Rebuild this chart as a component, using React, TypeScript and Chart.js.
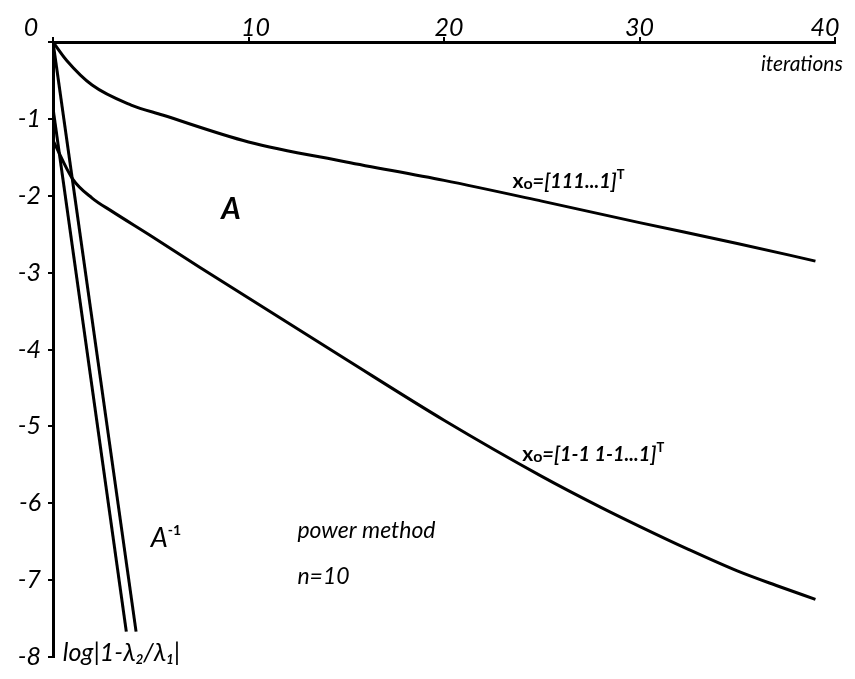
import React, { useEffect, useRef } from "react";
import { Chart, registerables } from "chart.js";
Chart.register(...registerables);

// ---- data ----
const xTickValues = [0, 10, 20, 30, 40];
const xTickLabels = ["0", "10", "20", "30", "40"];
const yTickValues = [0, -1, -2, -3, -4, -5, -6, -7, -8];
const yTickLabels = ["", "-1", "-2", "-3", "-4", "-5", "-6", "-7", "-8"];

// power method on A, x0 = [1 1 1 ... 1]^T
const onesIter = [0, 0.7, 2, 4, 5.6, 10, 15, 20, 25, 30, 35, 39];
const onesLog = [0, -0.24, -0.56, -0.82, -0.95, -1.3, -1.56, -1.8, -2.07, -2.35, -2.62, -2.85];

// power method on A, x0 = [1 -1 1 -1 ... 1]^T
const altIter = [0, 1, 2, 3, 5, 7.5, 10, 15, 20, 25, 28, 30, 32.5, 35, 37, 39];
const altLog = [-1.28, -1.78, -2.03, -2.2, -2.52, -2.93, -3.33, -4.13, -4.92, -5.65, -6.05, -6.3, -6.6, -6.88, -7.07, -7.25];

// power method on A^-1
const invOnesIter = [0, 4.25];
const invOnesLog = [0, -7.67];
const invAltIter = [0, 3.75];
const invAltLog = [-0.86, -7.67];

const toPoints = (xs: number[], ys: number[]) => xs.map((x, i) => ({ x, y: ys[i] }));

type Part = { t: string; size: number; dy?: number; weight?: string; style?: string };

function drawRich(ctx: CanvasRenderingContext2D, x: number, y: number, parts: Part[], family: string) {
  let cx = x;
  for (const p of parts) {
    ctx.font = `${p.style ?? "italic"} ${p.weight ?? "normal"} ${p.size}px ${family}`;
    ctx.fillText(p.t, cx, y + (p.dy ?? 0));
    cx += ctx.measureText(p.t).width;
  }
}

const FAM = "Lato, 'DejaVu Sans', sans-serif";

const annotationPlugin = {
  id: "annotations",
  afterDraw(chart: any) {
    const ctx: CanvasRenderingContext2D = chart.ctx;
    const xs = chart.scales.x;
    const ys = chart.scales.y;
    ctx.save();
    ctx.fillStyle = "#000";
    ctx.textBaseline = "alphabetic";

    // x tick labels above the top axis
    const nudges = [-22, 7, 5, 0, -10];
    ctx.font = `italic normal 25px ${FAM}`;
    ctx.textAlign = "center";
    xTickValues.forEach((v, i) => {
      ctx.fillText(xTickLabels[i], xs.getPixelForValue(v) + nudges[i], xs.bottom - 6);
    });

    ctx.textAlign = "right";
    ctx.font = `italic normal 21px ${FAM}`;
    ctx.fillText("iterations", xs.getPixelForValue(40.4), ys.getPixelForValue(-0.38));

    ctx.textAlign = "left";
    const P = (x: number, y: number) => [xs.getPixelForValue(x), ys.getPixelForValue(y)];

    let [px, py] = P(23.5, -1.9);
    drawRich(ctx, px, py, [
      { t: "x", size: 21, style: "normal", weight: "bold" },
      { t: "o", size: 16, style: "normal", weight: "bold", dy: 1 },
      { t: "=[111...1]", size: 20, style: "italic", weight: "bold" },
      { t: "T", size: 13, style: "normal", weight: "bold", dy: -9 },
    ], FAM);

    [px, py] = P(24.0, -5.45);
    drawRich(ctx, px, py, [
      { t: "x", size: 21, style: "normal", weight: "bold" },
      { t: "o", size: 16, style: "normal", weight: "bold", dy: 1 },
      { t: "=[1-1 1-1...1]", size: 20, style: "italic", weight: "bold" },
      { t: "T", size: 13, style: "normal", weight: "bold", dy: -9 },
    ], FAM);

    [px, py] = P(8.6, -2.3);
    drawRich(ctx, px, py, [{ t: "A", size: 30, style: "italic", weight: "bold" }], FAM);

    [px, py] = P(5.0, -6.57);
    drawRich(ctx, px, py, [
      { t: "A", size: 27, style: "italic", weight: "normal" },
      { t: "-1", size: 14, style: "normal", weight: "bold", dy: -12 },
    ], FAM);

    [px, py] = P(12.5, -6.45);
    drawRich(ctx, px, py, [{ t: "power method", size: 23, style: "italic" }], FAM);

    [px, py] = P(12.5, -7.05);
    drawRich(ctx, px, py, [{ t: "n=10", size: 23, style: "italic" }], FAM);

    [px, py] = P(0.5, -8.05);
    drawRich(ctx, px, py, [
      { t: "log|1-λ", size: 25, style: "italic" },
      { t: "2", size: 13, style: "italic", weight: "bold", dy: 3 },
      { t: "/λ", size: 25, style: "italic" },
      { t: "1", size: 13, style: "italic", weight: "bold", dy: 3 },
      { t: "|", size: 25, style: "italic" },
    ], FAM);

    ctx.restore();
  },
};

export default function App() {
  const ref = useRef<HTMLCanvasElement | null>(null);

  useEffect(() => {
    if (!ref.current) return;
    const lineStyle = {
      borderColor: "#000",
      borderWidth: 3,
      pointRadius: 0,
      fill: false,
    };
    const chart = new Chart(ref.current, {
      type: "line",
      data: {
        datasets: [
          { ...lineStyle, data: toPoints(onesIter, onesLog), cubicInterpolationMode: "monotone" },
          { ...lineStyle, data: toPoints(altIter, altLog), cubicInterpolationMode: "monotone" },
          { ...lineStyle, data: toPoints(invOnesIter, invOnesLog), tension: 0 },
          { ...lineStyle, data: toPoints(invAltIter, invAltLog), tension: 0 },
        ],
      },
      options: {
        animation: false,
        responsive: true,
        maintainAspectRatio: false,
        layout: { padding: { left: 0, right: 20, top: 0, bottom: 11 } },
        plugins: { legend: { display: false }, tooltip: { enabled: false } },
        scales: {
          x: {
            type: "linear",
            position: "top",
            min: 0,
            max: 40,
            afterBuildTicks: (s: any) => {
              s.ticks = xTickValues.map((v) => ({ value: v }));
            },
            afterFit: (s: any) => {
              s.height = 42;
            },
            ticks: { display: false },
            grid: { drawOnChartArea: false, drawTicks: true, tickLength: 5, color: "#000", lineWidth: 2 },
            border: { display: true, color: "#000", width: 3 },
          },
          y: {
            type: "linear",
            min: -8,
            max: 0,
            afterBuildTicks: (s: any) => {
              s.ticks = yTickValues.map((v) => ({ value: v }));
            },
            afterFit: (s: any) => {
              s.width = 53;
            },
            ticks: {
              color: "#000",
              padding: 7,
              font: { family: FAM, size: 25, style: "italic" },
              callback: (v: any) => {
                const i = yTickValues.indexOf(Number(v));
                return i >= 0 ? yTickLabels[i] : "";
              },
            },
            grid: { drawOnChartArea: false, drawTicks: true, tickLength: 5, color: "#000", lineWidth: 2 },
            border: { display: true, color: "#000", width: 3 },
          },
        },
      },
      plugins: [annotationPlugin],
    } as any);
    return () => chart.destroy();
  }, []);

  return (
    <div style={{ position: "fixed", left: 0, top: 0, width: 855, height: 679, background: "#fff" }}>
      <canvas ref={ref} />
    </div>
  );
}
